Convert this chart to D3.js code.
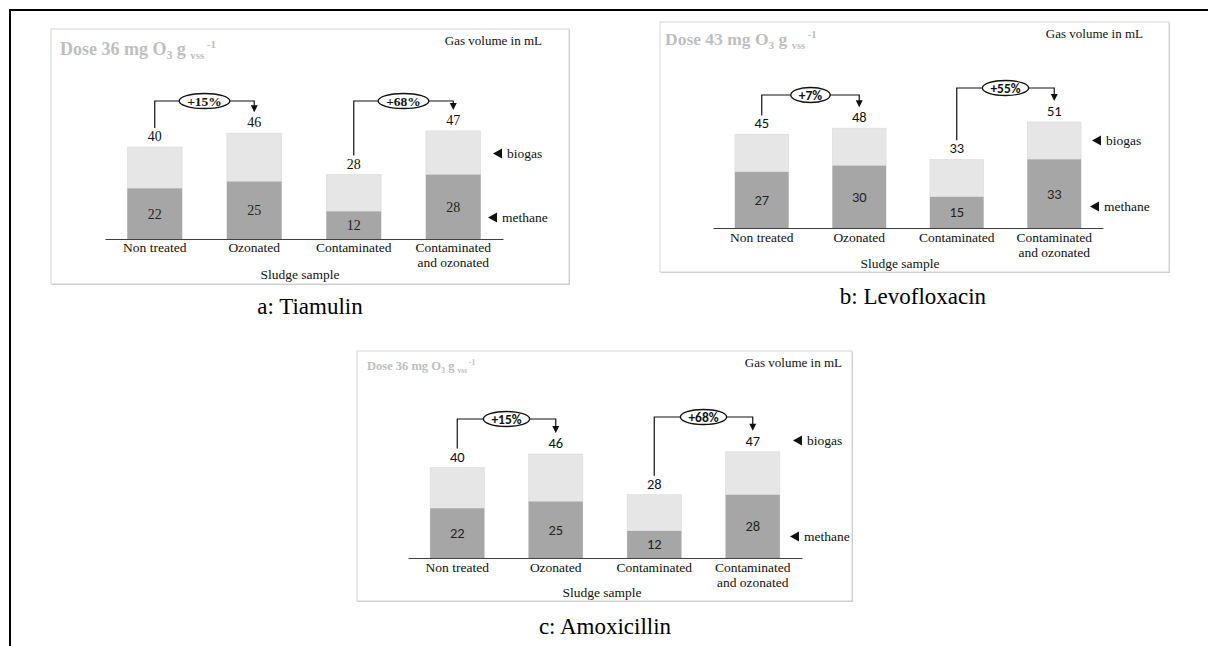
<!DOCTYPE html>
<html><head><meta charset="utf-8">
<script src="https://cdn.jsdelivr.net/npm/d3@7"></script>
<style>body{margin:0;background:#fff}svg{display:block}</style>
</head><body>
<svg id="c" width="1208" height="646"></svg>
<script>
// ---- data ----
const categories = ["Non treated", "Ozonated", "Contaminated", "Contaminated and ozonated"];
const categoryLines = [["Non treated"], ["Ozonated"], ["Contaminated"], ["Contaminated", "and ozonated"]];
const biogasA = [40, 46, 28, 47];
const methaneA = [22, 25, 12, 28];
const biogasB = [45, 48, 33, 51];
const methaneB = [27, 30, 15, 33];
const biogasC = [40, 46, 28, 47];
const methaneC = [22, 25, 12, 28];
const increaseA = ["+15%", "+68%"];
const increaseB = ["+7%", "+55%"];
const increaseC = ["+15%", "+68%"];
const comparisons = [[0, 1], [2, 3]];
const doses = ["36", "43", "36"];
const captions = ["a: Tiamulin", "b: Levofloxacin", "c: Amoxicillin"];
const legendLabels = ["biogas", "methane"];
const yMax = 50;

// ---- layout ----
const SERIF = "'Liberation Serif','Times New Roman',Times,serif";
const SANS = "Carlito,Lato,'Liberation Sans',sans-serif";
const svg = d3.select("#c");

svg.append("line").attr("x1", 9).attr("x2", 1208).attr("y1", 10).attr("y2", 10).attr("stroke", "#000").attr("stroke-width", 2);
svg.append("line").attr("x1", 10).attr("x2", 10).attr("y1", 9).attr("y2", 646).attr("stroke", "#000").attr("stroke-width", 2);

const panels = [
  {biogas: biogasA, methane: methaneA, inc: increaseA, dose: doses[0], caption: captions[0],
   box: [51, 29, 518, 255], axis: [105, 503, 239], ppu: 2.3, bracketY: [101, 101],
   title: [60, 55, 18], gas: [542, 45], leg: [[493, 158], [488, 222]], catY: 252, sludge: [300, 279],
   numFont: SERIF, numSize: 14, capPos: [310, 314]},
  {biogas: biogasB, methane: methaneB, inc: increaseB, dose: doses[1], caption: captions[1],
   box: [660, 22, 509, 250], axis: [713, 1103, 228], ppu: 2.08, bracketY: [95, 88],
   title: [665, 45, 17.5], gas: [1143, 38], leg: [[1092, 145], [1090, 211]], catY: 242, sludge: [900, 268],
   numFont: SANS, numSize: 14.5, capPos: [913, 304]},
  {biogas: biogasC, methane: methaneC, inc: increaseC, dose: doses[2], caption: captions[2],
   box: [357, 351, 495, 250], axis: [408, 802, 558], ppu: 2.26, bracketY: [419, 417],
   title: [367, 370, 12.5], gas: [842, 367], leg: [[793, 445], [790, 541]], catY: 572, sludge: [602, 597],
   numFont: SANS, numSize: 14.5, capPos: [605, 634]}
];

panels.forEach(p => {
  const g = svg.append("g");
  const [bx, by, bw, bh] = p.box;
  g.append("rect").attr("x", bx + 1).attr("y", by + 1).attr("width", bw).attr("height", bh).attr("fill", "#c8c8c8");
  g.append("rect").attr("x", bx).attr("y", by).attr("width", bw).attr("height", bh)
    .attr("fill", "#fff").attr("stroke", "#d6d6d6").attr("stroke-width", 1);

  const [x0, x1, ay] = p.axis;
  const x = d3.scaleBand().domain(categories).range([x0, x1]).paddingInner(0.45).paddingOuter(0.225);
  const y = d3.scaleLinear().domain([0, yMax]).range([ay, ay - yMax * p.ppu]);

  const rows = categories.map((c, i) => ({c, i, total: p.biogas[i], m: p.methane[i]}));

  g.selectAll(".bio").data(rows).enter().append("rect")
    .attr("x", d => x(d.c)).attr("width", x.bandwidth())
    .attr("y", d => y(d.total)).attr("height", d => y(0) - y(d.total))
    .attr("fill", "#e6e6e6").attr("stroke", "#dadada").attr("stroke-width", 0.6);
  g.selectAll(".met").data(rows).enter().append("rect")
    .attr("x", d => x(d.c)).attr("width", x.bandwidth())
    .attr("y", d => y(d.m)).attr("height", d => y(0) - y(d.m))
    .attr("fill", "#a6a6a6");

  const axis = d3.axisBottom(x).tickSize(0).tickFormat("");
  const ag = g.append("g").attr("transform", `translate(0,${ay})`).call(axis);
  ag.select(".domain").attr("stroke", "#404040").attr("stroke-width", 1.2);

  g.selectAll(".tot").data(rows).enter().append("text")
    .attr("x", d => x(d.c) + x.bandwidth() / 2).attr("y", d => y(d.total) - 6)
    .attr("text-anchor", "middle").attr("font-family", p.numFont).attr("font-size", p.numSize)
    .attr("fill", "#111").text(d => d.total);
  g.selectAll(".mv").data(rows).enter().append("text")
    .attr("x", d => x(d.c) + x.bandwidth() / 2).attr("y", d => (y(0) + y(d.m)) / 2 + 5)
    .attr("text-anchor", "middle").attr("font-family", p.numFont).attr("font-size", p.numSize)
    .attr("fill", "#222").text(d => d.m);

  rows.forEach(d => {
    const t = g.append("text").attr("x", x(d.c) + x.bandwidth() / 2).attr("y", p.catY)
      .attr("text-anchor", "middle").attr("font-family", SERIF).attr("font-size", 13.5).attr("fill", "#111");
    categoryLines[d.i].forEach((ln, k) => {
      t.append("tspan").attr("x", x(d.c) + x.bandwidth() / 2).attr("dy", k === 0 ? 0 : 15).text(ln);
    });
  });
  g.append("text").attr("x", p.sludge[0]).attr("y", p.sludge[1]).attr("text-anchor", "middle")
    .attr("font-family", SERIF).attr("font-size", 13.5).attr("fill", "#111").text("Sludge sample");

  const [tx, ty, ts] = p.title;
  const tt = g.append("text").attr("x", tx).attr("y", ty).attr("font-family", SERIF).attr("font-weight", "bold")
    .attr("font-size", ts).attr("fill", "#bfbfbf");
  tt.append("tspan").text(`Dose ${p.dose} mg O`);
  tt.append("tspan").attr("font-size", ts * 0.65).attr("dy", ts * 0.22).text("3");
  tt.append("tspan").attr("dy", -ts * 0.22).text(" g ");
  tt.append("tspan").attr("font-size", ts * 0.6).attr("dy", ts * 0.22).text("vss");
  tt.append("tspan").attr("font-size", ts * 0.6).attr("dy", -ts * 0.62).text(" -1");

  g.append("text").attr("x", p.gas[0]).attr("y", p.gas[1]).attr("text-anchor", "end")
    .attr("font-family", SERIF).attr("font-size", 13).attr("fill", "#111").text("Gas volume in mL");

  p.leg.forEach((pos, k) => {
    const [lx, ly] = pos;
    g.append("path").attr("d", `M${lx},${ly - 4.5}L${lx + 9},${ly - 9.5}L${lx + 9},${ly + 0.5}Z`).attr("fill", "#111");
    g.append("text").attr("x", lx + 14).attr("y", ly).attr("font-family", SERIF).attr("font-size", 13.5)
      .attr("fill", "#111").text(legendLabels[k]);
  });

  comparisons.forEach((pair, k) => {
    const [a, b] = pair;
    const xa = x(categories[a]) + x.bandwidth() / 2;
    const xb = x(categories[b]) + x.bandwidth() / 2;
    const top = p.bracketY[k];
    const start = y(p.biogas[a]) - 19;
    const tip = y(p.biogas[b]) - 21;
    g.append("path").attr("d", `M${xa},${start}V${top}H${xb}V${tip - 6}`)
      .attr("fill", "none").attr("stroke", "#111").attr("stroke-width", 1.2);
    g.append("path").attr("d", `M${xb - 3.5},${tip - 7}L${xb + 3.5},${tip - 7}L${xb},${tip}Z`).attr("fill", "#111");
    const mx = (xa + xb) / 2;
    const lbl = g.append("text").attr("x", mx).attr("y", top + 4.5).attr("text-anchor", "middle")
      .attr("font-family", p.numFont).attr("font-weight", "bold").attr("font-size", 13.5).attr("fill", "#111")
      .text(p.inc[k]);
    const w = lbl.node().getComputedTextLength();
    g.insert("ellipse", function() { return lbl.node(); })
      .attr("cx", mx).attr("cy", top).attr("rx", w / 2 + 8).attr("ry", 7.5)
      .attr("fill", "#fff").attr("stroke", "#111").attr("stroke-width", 1.3);
  });

  svg.append("text").attr("x", p.capPos[0]).attr("y", p.capPos[1]).attr("text-anchor", "middle")
    .attr("font-family", SERIF).attr("font-size", 23).attr("fill", "#000").text(p.caption);
});
</script>
</body></html>
